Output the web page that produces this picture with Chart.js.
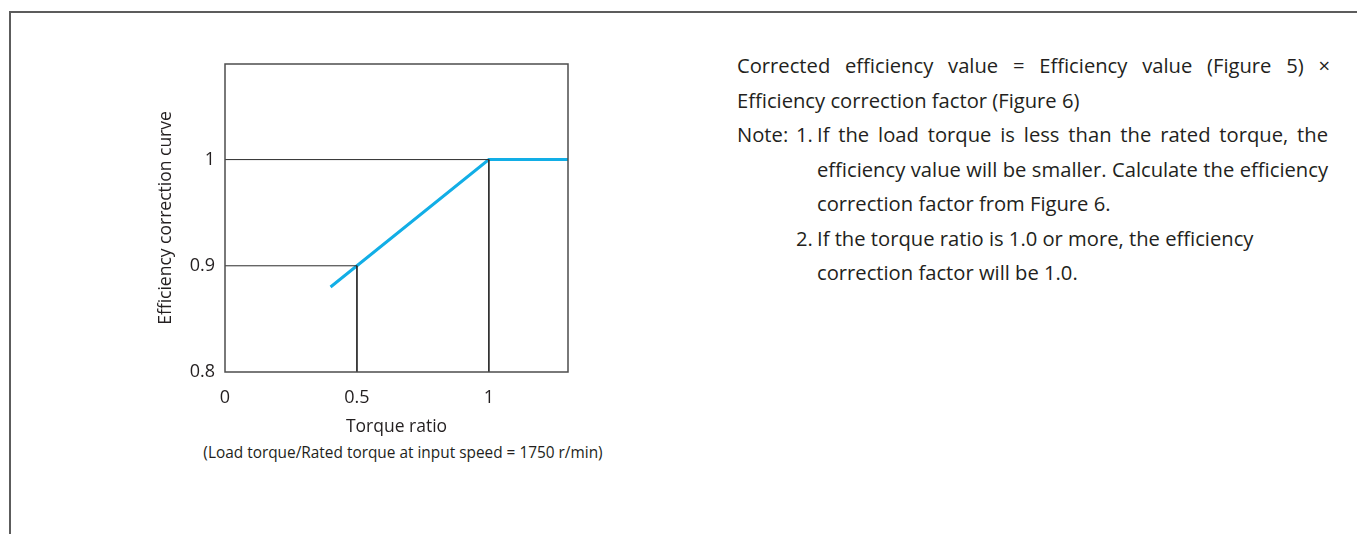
<!DOCTYPE html>
<html>
<head>
<meta charset="utf-8">
<script src="https://cdn.jsdelivr.net/npm/chart.js@4.4.1/dist/chart.umd.min.js"></script>
<style>
  html, body { margin: 0; padding: 0; background: #fff; }
  body { width: 1357px; height: 534px; position: relative; overflow: hidden;
         font-family: 'Open Sans', sans-serif; color: #231f20; }
  #frame { position: absolute; left: 9px; top: 11px; width: 1400px; height: 600px;
           border-top: 2px solid #5c5c5c; border-left: 2px solid #5c5c5c; }
  #chartBox { position: absolute; left: 100px; top: 40px; width: 500px; height: 400px; }
  #subtitle { position: absolute; left: 183px; top: 443px; width: 440px; line-height: 20px;
              font-size: 15.4px; text-align: center; white-space: nowrap; }
  #notes { position: absolute; left: 737px; top: 48px; font-size: 20.2px; line-height: 34.5px; }
  #notes .ln { position: relative; white-space: nowrap; height: 34.5px; }
  #notes .just { text-align: justify; text-align-last: justify; }
  #notes .ind { padding-left: 80px; }
  #notes .num { position: absolute; left: 59px; top: 0; }
  #notes .lab { position: absolute; left: 0; top: 0; }
</style>
</head>
<body>
<div id="frame"></div>
<div id="chartBox"><canvas id="chart"></canvas></div>
<div id="subtitle">(Load torque/Rated torque at input speed = 1750 r/min)</div>
<div id="notes">
  <div class="ln just" style="width:593px">Corrected efficiency value = Efficiency value (Figure 5) ×</div>
  <div class="ln">Efficiency correction factor (Figure 6)</div>
  <div class="ln"><span class="lab">Note:</span><span class="num">1.</span><div class="ind just" style="width:511px">If the load torque is less than the rated torque, the</div></div>
  <div class="ln ind just" style="width:511px">efficiency value will be smaller. Calculate the efficiency</div>
  <div class="ln ind">correction factor from Figure 6.</div>
  <div class="ln"><span class="num">2.</span><div class="ind">If the torque ratio is 1.0 or more, the efficiency</div></div>
  <div class="ln ind">correction factor will be 1.0.</div>
</div>
<script>
// axis ticks
const xTicks = [0, 0.5, 1];
const xTickLabels = ['0', '0.5', '1'];
const yTicks = [0.8, 0.9, 1];
const yTickLabels = ['0.8', '0.9', '1'];

// efficiency correction curve
const curveX = [0.4, 1, 1.3];
const curveY = [0.88, 1, 1];

// reading guides at 0.5 and 1
const guideHalfX = [0, 0.5, 0.5];
const guideHalfY = [0.9, 0.9, 0.8];
const guideOneX = [0, 1, 1];
const guideOneY = [1, 1, 0.8];

const toPoints = (xs, ys) => xs.map((x, i) => ({ x: x, y: ys[i] }));

Chart.defaults.font.family = "'Open Sans', sans-serif";
Chart.defaults.color = '#231f20';

// box around the plot area
const plotFrame = {
  id: 'plotFrame',
  afterDatasetsDraw(chart) {
    const { ctx, chartArea } = chart;
    ctx.save();
    ctx.strokeStyle = '#4d4d4d';
    ctx.lineWidth = 1.5;
    ctx.strokeRect(chartArea.left, chartArea.top, chartArea.right - chartArea.left, chartArea.bottom - chartArea.top);
    ctx.restore();
  }
};

const guideStyle = {
  borderColor: '#2b2b2b',
  borderWidth: 1,
  pointRadius: 0,
  showLine: true,
  fill: false
};

new Chart(document.getElementById('chart'), {
  type: 'scatter',
  data: {
    datasets: [
      Object.assign({ label: 'guide 0.5', data: toPoints(guideHalfX, guideHalfY) }, guideStyle),
      Object.assign({ label: 'guide 1', data: toPoints(guideOneX, guideOneY) }, guideStyle),
      {
        label: 'Efficiency correction curve',
        data: toPoints(curveX, curveY),
        borderColor: '#12aee6',
        borderWidth: 3,
        pointRadius: 0,
        showLine: true,
        fill: false
      }
    ]
  },
  options: {
    responsive: true,
    maintainAspectRatio: false,
    animation: false,
    layout: { padding: { left: 50, right: 32, top: 24, bottom: 2 } },
    plugins: { legend: { display: false }, tooltip: { enabled: false } },
    scales: {
      x: {
        type: 'linear',
        min: 0,
        max: 1.3,
        grid: { display: false, drawTicks: false },
        border: { display: false },
        afterBuildTicks: (s) => { s.ticks = xTicks.map(v => ({ value: v })); },
        afterFit: (s) => { s.height = 66; },
        ticks: {
          padding: 15,
          font: { size: 18 },
          callback: (v, i) => xTickLabels[i]
        },
        title: { display: true, text: 'Torque ratio', font: { size: 17.5 }, padding: 0 }
      },
      y: {
        min: 0.8,
        max: 1.09,
        grid: { display: false, drawTicks: false },
        border: { display: false },
        afterBuildTicks: (s) => { s.ticks = yTicks.map(v => ({ value: v })); },
        afterFit: (s) => { s.width = 75; },
        ticks: {
          padding: 10,
          font: { size: 18 },
          callback: (v, i) => yTickLabels[i]
        },
        title: { display: true, text: 'Efficiency correction curve', font: { size: 17.5 }, padding: { top: 5.5, bottom: 0 } }
      }
    }
  },
  plugins: [plotFrame]
});
</script>
</body>
</html>
